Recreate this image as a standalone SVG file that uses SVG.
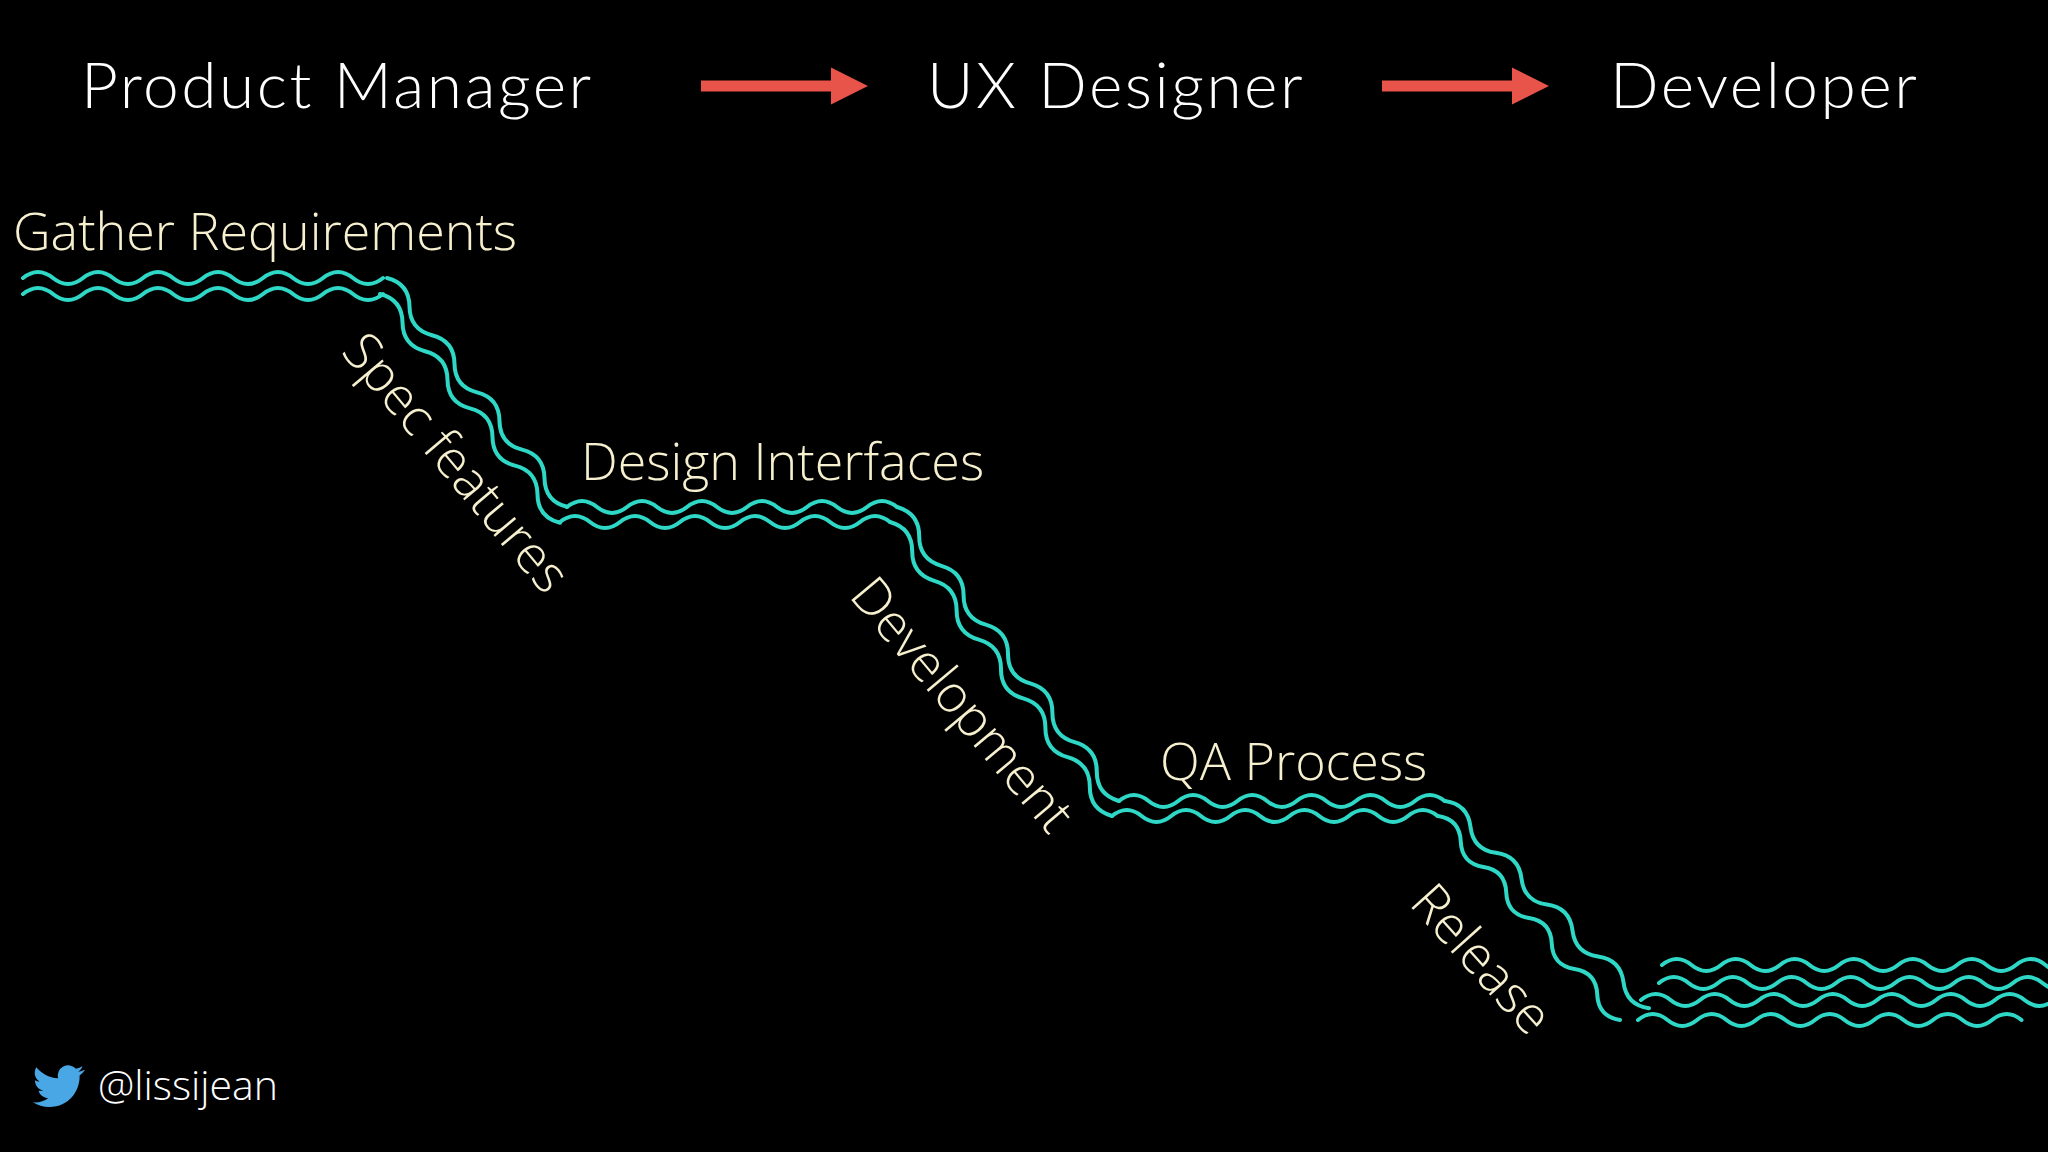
<svg xmlns="http://www.w3.org/2000/svg" width="2048" height="1152" viewBox="0 0 2048 1152">
<style>
.w{fill:none;stroke:#2fd8c6;stroke-width:4;stroke-linecap:round}
.t{font-family:Lato,"Liberation Sans",sans-serif;font-weight:300;fill:#fff;font-size:64px;letter-spacing:2.5px}
.l{font-family:"Open Sans","Liberation Sans",sans-serif;font-weight:300;fill:#f6f0cf;font-size:52px}
.a{stroke:#e8534a;stroke-width:11}
</style>
<defs><marker id="ah" viewBox="0 0 10 10" refX="2" refY="5" markerWidth="3.4" markerHeight="3.4" orient="auto" markerUnits="strokeWidth"><path d="M0 0L10 5L0 10z" fill="#e8534a"/></marker></defs>
<rect width="2048" height="1152" fill="#000"/>
<g id="roles">
<text class="t" x="81" y="108">Product Manager</text>
<text class="t" x="927" y="108">UX Designer</text>
<text class="t" x="1610" y="108">Developer</text>
</g>
<g id="connectors">
<line class="a" x1="701" y1="86" x2="838" y2="86" marker-end="url(#ah)"/>
<line class="a" x1="1382" y1="86" x2="1519" y2="86" marker-end="url(#ah)"/>
<path class="w" d="M23 278q15 -12 30 0t30 0t30 0t30 0t30 0t30 0t30 0t30 0t30 0t30 0t30 0t30 0"/>
<path class="w" d="M23 294q15 -12 30 0t30 0t30 0t30 0t30 0t30 0t30 0t30 0t30 0t30 0t30 0t30 0"/>
<path class="w" d="M387 278q22.25 5.6 22.5 28.6t22.5 28.6t22.5 28.6t22.5 28.6t22.5 28.6t22.5 28.6t22.5 28.6t22.5 28.6"/>
<path class="w" d="M380 294q22.25 5.6 22.5 28.6t22.5 28.6t22.5 28.6t22.5 28.6t22.5 28.6t22.5 28.6t22.5 28.6t22.5 28.6"/>
<path class="w" d="M567 507q15 -12 30 0t30 0t30 0t30 0t30 0t30 0t30 0t30 0t30 0t30 0t30 0"/>
<path class="w" d="M560 522q15 -12 30 0t30 0t30 0t30 0t30 0t30 0t30 0t30 0t30 0t30 0t30 0"/>
<path class="w" d="M897 507q22.3 6.3 22.2 29.4t22.2 29.4t22.2 29.4t22.2 29.4t22.2 29.4t22.2 29.4t22.2 29.4t22.2 29.4t22.2 29.4t22.2 29.4"/>
<path class="w" d="M890 522q22.3 6.3 22.2 29.4t22.2 29.4t22.2 29.4t22.2 29.4t22.2 29.4t22.2 29.4t22.2 29.4t22.2 29.4t22.2 29.4t22.2 29.4"/>
<path class="w" d="M1119 801q14.8 -12 29.6 0t29.6 0t29.6 0t29.6 0t29.6 0t29.6 0t29.6 0t29.6 0t29.6 0t29.6 0t29.6 0"/>
<path class="w" d="M1112 816q14.8 -12 29.6 0t29.6 0t29.6 0t29.6 0t29.6 0t29.6 0t29.6 0t29.6 0t29.6 0t29.6 0t29.6 0"/>
<path class="w" d="M1445 801q22.75 3.1 25.5 25.9t25.5 25.9t25.5 25.9t25.5 25.9t25.5 25.9t25.5 25.9t25.5 25.9t25.5 25.9"/>
<path class="w" d="M1438 816q21.8 3.45 22.75 25.5t22.75 25.5t22.75 25.5t22.75 25.5t22.75 25.5t22.75 25.5t22.75 25.5t22.75 25.5"/>
<path class="w" d="M1662 965q14.75 -12 29.5 0t29.5 0t29.5 0t29.5 0t29.5 0t29.5 0t29.5 0t29.5 0t29.5 0t29.5 0t29.5 0t29.5 0t29.5 0t29.5 0"/>
<path class="w" d="M1659 983q14.75 -12 29.5 0t29.5 0t29.5 0t29.5 0t29.5 0t29.5 0t29.5 0t29.5 0t29.5 0t29.5 0t29.5 0t29.5 0t29.5 0t29.5 0"/>
<path class="w" d="M1641 1000q14.75 -12 29.5 0t29.5 0t29.5 0t29.5 0t29.5 0t29.5 0t29.5 0t29.5 0t29.5 0t29.5 0t29.5 0t29.5 0t29.5 0t29.5 0t29.5 0"/>
<path class="w" d="M1638 1020q14.75 -12 29.5 0t29.5 0t29.5 0t29.5 0t29.5 0t29.5 0t29.5 0t29.5 0t29.5 0t29.5 0t29.5 0t29.5 0t29.5 0"/>
</g>
<g id="stages">
<text class="l" x="13" y="250">Gather Requirements</text>
<text class="l" transform="translate(340,352) rotate(50)">Spec features</text>
<text class="l" x="581" y="480">Design Interfaces</text>
<text class="l" transform="translate(848,596) rotate(50)">Development</text>
<text class="l" transform="translate(1408,904) rotate(48)">Release</text>
<text class="l" x="1160" y="780">QA Process</text>
</g>
<g id="credit">
<path fill="#4aa7e6" d="M84 1070c-2 1-4 1.5-6 1.8 2-1.3 3.7-3.2 4.5-5.5-2 1.2-4.2 2-6.5 2.5a10.5 10.5 0 0 0-18 9.5c-9-.5-16.5-4.700-21.7-11-3 5-1.5 11.2 3.3 14.2-1.7 0-3.3-.5-4.7-1.3 0 5 3.600 9.300 8.400 10.300-1.5.4-3.2.5-4.8.2 1.4 4.2 5.3 7.2 9.8 7.3-4.3 3.4-9.8 4.9-15.3 4.3 4.7 3 10.3 4.8 16.3 4.8 19.6 0 30.3-16.2 30.3-30.3v-1.4c2-1.5 3.8-3.3 5.3-5.4z"/>
<text x="98" y="1100" style="font-family:'Open Sans','Liberation Sans',sans-serif;font-weight:300;font-size:41px;fill:#fff">@lissijean</text>
</g>
</svg>
